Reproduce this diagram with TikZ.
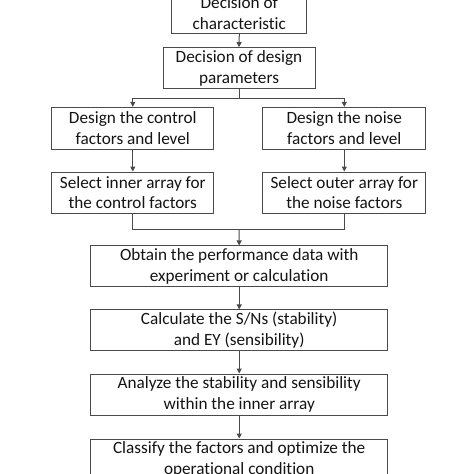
\documentclass[tikz,border=0pt]{standalone}
\usepackage{fontspec}
\setmainfont{Carlito}[Ligatures=NoCommon]
\usetikzlibrary{arrows.meta}
\definecolor{linec}{HTML}{4A4A4A}
\definecolor{textc}{HTML}{141414}
\tikzset{
  box/.style={draw=linec, line width=1pt, inner sep=0pt, align=center, text=textc,
    font=\fontsize{17.2}{20.7}\selectfont},
  conn/.style={draw=linec, line width=1pt},
  arr/.style={conn, -{Triangle[length=5pt,width=5pt]}}
}
\begin{document}
\begin{tikzpicture}[x=1pt,y=-1pt]
\useasboundingbox[fill=white] (0,0) rectangle (474,474);
\node[box, minimum width=135.3pt, minimum height=41.3pt] (b1) at (239.3,13) {Decision of\\characteristic};
\node[box, minimum width=152pt, minimum height=41.3pt] (b2) at (239,68.3) {Decision of design\\parameters};
\node[box, minimum width=162.3pt, minimum height=41.7pt] (b3l) at (132.8,128.2) {Design the control\\factors and level};
\node[box, minimum width=162.7pt, minimum height=41.7pt] (b3r) at (344.3,128.2) {Design the noise\\factors and level};
\node[box, minimum width=162.3pt, minimum height=41.3pt] (b4l) at (132.8,192.7) {Select inner array for\\the control factors};
\node[box, minimum width=162.7pt, minimum height=41.3pt] (b4r) at (344.3,192.7) {Select outer array for\\the noise factors};
\node[box, minimum width=297pt, minimum height=40.7pt] (b5) at (239.2,266.3) {Obtain the performance data with\\experiment or calculation};
\node[box, minimum width=297pt, minimum height=40.7pt] (b6) at (239.2,330.3) {Calculate the S/Ns (stability)\\and EY (sensibility)};
\node[box, minimum width=297pt, minimum height=41pt] (b7) at (239.2,394.5) {Analyze the stability and sensibility\\within the inner array};
\node[box, minimum width=297pt, minimum height=41pt] (b8) at (239.2,459.5) {Classify the factors and optimize the\\operational condition};
\coordinate (s1) at (239,98.3);
\coordinate (m1) at (239,229.5);
\draw[arr] (b1.south) -- (b2.north);
\draw[conn] (b2.south) -- (s1);
\draw[arr] (s1) -| (b3l.north);
\draw[arr] (s1) -| (b3r.north);
\draw[arr] (b3l.south) -- (b4l.north);
\draw[arr] (b3r.south) -- (b4r.north);
\draw[conn] (b4l.south) |- (m1) -| (b4r.south);
\draw[arr] (m1) -- (b5.north);
\draw[arr] (b5.south) -- (b6.north);
\draw[arr] (b6.south) -- (b7.north);
\draw[arr] (b7.south) -- (b8.north);
\end{tikzpicture}
\end{document}
